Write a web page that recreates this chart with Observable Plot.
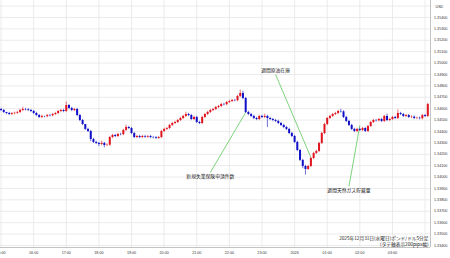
<!DOCTYPE html>
<html>
<head>
<meta charset="utf-8">
<script src="https://cdn.jsdelivr.net/npm/d3@7"></script>
<script src="https://cdn.jsdelivr.net/npm/@observablehq/plot@0.6"></script>
<style>
  html, body { margin: 0; padding: 0; background: #fff; }
  #chart svg { display: block; }
</style>
</head>
<body>
<div id="chart"></div>
<script>
// ---- data (GBP/USD 5-minute candles, 2025-12-31 15:00 JST onward) ----
const startTime = "2025-12-31T15:00:00Z";
const barMinutes = 5;
const firstOpen = 1.34593;
const closes = [
  1.34584,1.34567,1.34558,1.34549,1.34556,1.34560,1.34567,1.34584,1.34593,1.34590,1.34584,1.34575,
  1.34558,1.34540,1.34523,1.34532,1.34530,1.34540,1.34538,1.34549,1.34558,1.34575,1.34584,1.34575,
  1.34628,1.34602,1.34584,1.34593,1.34540,1.34496,1.34461,1.34418,1.34400,1.34330,1.34304,1.34295,
  1.34286,1.34295,1.34277,1.34280,1.34347,1.34365,1.34356,1.34374,1.34372,1.34409,1.34435,1.34426,
  1.34382,1.34347,1.34356,1.34347,1.34356,1.34350,1.34356,1.34347,1.34345,1.34339,1.34347,1.34400,
  1.34418,1.34426,1.34453,1.34470,1.34479,1.34496,1.34514,1.34532,1.34549,1.34540,1.34505,1.34523,
  1.34479,1.34470,1.34523,1.34549,1.34567,1.34584,1.34593,1.34610,1.34619,1.34637,1.34635,1.34654,
  1.34663,1.34672,1.34670,1.34707,1.34733,1.34689,1.34567,1.34549,1.34532,1.34514,1.34505,1.34532,
  1.34523,1.34532,1.34514,1.34505,1.34496,1.34488,1.34470,1.34453,1.34435,1.34418,1.34382,1.34356,
  1.34304,1.34233,1.34146,1.34093,1.34067,1.34093,1.34163,1.34207,1.34225,1.34295,1.34382,1.34461,
  1.34514,1.34532,1.34549,1.34558,1.34575,1.34572,1.34523,1.34488,1.34453,1.34418,1.34400,1.34418,
  1.34409,1.34426,1.34400,1.34444,1.34479,1.34496,1.34494,1.34505,1.34488,1.34532,1.34496,1.34505,
  1.34523,1.34514,1.34558,1.34549,1.34532,1.34540,1.34523,1.34526,1.34514,1.34516,1.34512,1.34540,
  1.34532,1.34637
];
// upper / lower shadow lengths in pips
const wickUp = [
  1,1,0,1,1,1,1,1,2,1,1,1, 1,1,1,1,0,1,1,1,1,1,1,1, 3,1,1,1,1,1,1,0,1,1,1,1,
  1,2,1,1,1,1,1,1,1,1,2,1, 1,1,1,1,1,1,1,1,1,1,1,1, 1,1,1,1,1,1,1,1,2,1,1,1,
  1,1,1,1,1,1,1,1,1,1,1,1, 1,1,1,1,3,2,1,1,1,1,1,1, 1,2,1,1,1,1,1,1,1,1,1,1,
  1,1,1,1,1,1,1,1,1,1,1,1, 1,1,1,1,1,2,1,1,1,1,1,1, 1,1,1,1,1,1,1,1,1,1,2,1,
  1,1,3,1,1,1,1,1,1,1,1,1, 1,1
];
const wickDn = [
  1,1,1,1,1,1,1,1,1,1,1,1, 1,1,1,1,1,1,1,1,1,1,1,1, 1,1,1,1,1,1,1,1,1,2,1,1,
  2,1,2,1,1,1,1,1,1,1,1,1, 1,1,1,1,1,1,1,1,1,1,1,1, 1,1,1,1,1,1,1,1,1,1,1,1,
  1,1,1,1,1,1,1,1,1,1,1,1, 1,1,1,1,1,1,1,1,1,1,1,1, 1,1,8,1,1,1,1,1,1,1,1,1,
  1,1,1,2,5,1,1,1,1,1,1,1, 1,1,1,1,1,1,1,1,1,1,1,1, 1,1,1,1,1,1,1,1,1,1,1,1,
  1,1,1,1,1,1,1,1,1,1,1,1, 1,1
];

// axes
const xDomainText = ["2025-12-31T14:59:00Z", "2026-01-01T04:10:00Z"];
const yDomain = [1.33382, 1.35549];
const xTickText = ["2025-12-31T15:00Z","2025-12-31T16:00Z","2025-12-31T17:00Z","2025-12-31T18:00Z",
  "2025-12-31T19:00Z","2025-12-31T20:00Z","2025-12-31T21:00Z","2025-12-31T22:00Z","2025-12-31T23:00Z",
  "2026-01-01T00:00Z","2026-01-01T01:00Z","2026-01-01T02:00Z","2026-01-01T03:00Z"];
const xTickLabels = ["15:00","16:00","17:00","18:00","19:00","20:00","21:00","22:00","23:00","2026","01:00","02:00","03:00"];
const xGridExtra = ["2026-01-01T04:00Z"];
const yTicks = [1.334,1.335,1.336,1.337,1.338,1.339,1.340,1.341,1.342,1.343,1.344,
  1.345,1.346,1.347,1.348,1.349,1.350,1.351,1.352,1.353,1.354];
const yGridExtra = [1.355];
const unitLabel = "USD";

// event annotations
const eventLabels = ["新規失業保険申請件数", "週間原油在庫", "週間天然ガス貯蔵量"];
const eventTimes = ["2025-12-31T22:30Z", "2026-01-01T00:30Z", "2026-01-01T02:00Z"];
const eventPrices = [1.34567, 1.34172, 1.34453];
const eventLabelTimes = ["2025-12-31T21:25Z", "2025-12-31T23:25Z", "2026-01-01T01:40Z"];
const eventLabelPrices = [1.34040, 1.34900, 1.33918];
const eventLabelSide = ["below", "above", "below"];

const captionLines = ["2025年12月31日(水曜日)ポンド/ドル5分足", "(タテ軸表示200pips幅)"];

// ---- build ----
const pip = 0.0001;
const t0 = new Date(startTime).getTime();
const candles = closes.map((c, i) => {
  const o = i === 0 ? firstOpen : closes[i - 1];
  return {
    date: new Date(t0 + i * barMinutes * 60000),
    open: o, close: c,
    high: Math.max(o, c) + wickUp[i] * pip,
    low: Math.min(o, c) - wickDn[i] * pip
  };
});
const up = candles.filter(d => d.close >= d.open);
const down = candles.filter(d => d.close < d.open);
const upColor = "#e0141e";
const downColor = "#1010c8";

const xDomain = xDomainText.map(s => new Date(s));
const xTicks = xTickText.map(s => new Date(s));
const xGrid = xTicks.concat(xGridExtra.map(s => new Date(s)));
const labelByTime = new Map(xTicks.map((d, i) => [+d, xTickLabels[i]]));

const events = eventLabels.map((label, i) => ({
  label,
  t: new Date(eventTimes[i]), p: eventPrices[i],
  lt: new Date(eventLabelTimes[i]), lp: eventLabelPrices[i],
  side: eventLabelSide[i]
}));

const jp = "'Noto Sans CJK JP', 'Noto Sans', sans-serif";
const lat = "'Liberation Sans', Arial, sans-serif";

const chart = Plot.plot({
  width: 450,
  height: 258,
  marginTop: 0,
  marginBottom: 11,
  marginLeft: 0,
  marginRight: 20,
  style: {background: "#fff", color: "#333", fontFamily: lat, fontSize: "3.7px", overflow: "visible"},
  x: {type: "utc", domain: xDomain},
  y: {domain: yDomain},
  marks: [
    Plot.gridY(yTicks.concat(yGridExtra), {stroke: "#e6e6e6", strokeOpacity: 1, strokeWidth: 0.8}),
    Plot.gridX(xGrid, {stroke: "#e6e6e6", strokeOpacity: 1, strokeWidth: 0.8}),
    Plot.ruleY([yDomain[0]], {stroke: "#b4b4b4", strokeWidth: 0.8}),
    Plot.ruleX([xDomain[1]], {stroke: "#b4b4b4", strokeWidth: 0.8}),
    Plot.axisY(yTicks, {anchor: "right", tickSize: 0, tickPadding: 3.5, fontSize: 3.7,
      tickFormat: d3.format(".5f"), label: null, fill: "#333"}),
    Plot.axisX(xTicks, {anchor: "bottom", tickSize: 0, tickPadding: 3.8, fontSize: 3.7,
      tickFormat: d => labelByTime.get(+d), label: null, fill: "#333"}),
    Plot.text([unitLabel], {frameAnchor: "top-right", dx: 5, dy: 6, textAnchor: "start",
      lineAnchor: "middle", fontSize: 3.7, fill: "#333"}),
    // annotation leader lines
    Plot.link(events, {x1: "t", y1: "p", x2: "lt", y2: "lp", stroke: "#5cc85c", strokeWidth: 0.8}),
    // candles
    Plot.ruleX(up, {x: "date", y1: "low", y2: "high", stroke: upColor, strokeWidth: 0.6}),
    Plot.ruleX(down, {x: "date", y1: "low", y2: "high", stroke: downColor, strokeWidth: 0.6}),
    Plot.ruleX(up, {x: "date", y1: "open", y2: "close", stroke: upColor, strokeWidth: 2}),
    Plot.ruleX(down, {x: "date", y1: "open", y2: "close", stroke: downColor, strokeWidth: 2}),
    // annotation labels
    Plot.text(events.filter(e => e.side === "below"), {x: "lt", y: "lp", text: "label", dy: 4.2,
      fontFamily: jp, fontSize: 4.8, fill: "#222"}),
    Plot.text(events.filter(e => e.side === "above"), {x: "lt", y: "lp", text: "label", dy: -4.2,
      fontFamily: jp, fontSize: 4.8, fill: "#222"}),
    // caption
    Plot.text([captionLines.join("\n")], {frameAnchor: "bottom-right", textAnchor: "end",
      lineAnchor: "bottom", dx: -2, dy: -1.5, lineHeight: 1.25, fontFamily: jp, fontSize: 4.7, fill: "#222"})
  ]
});
document.getElementById("chart").appendChild(chart);
</script>
</body>
</html>
